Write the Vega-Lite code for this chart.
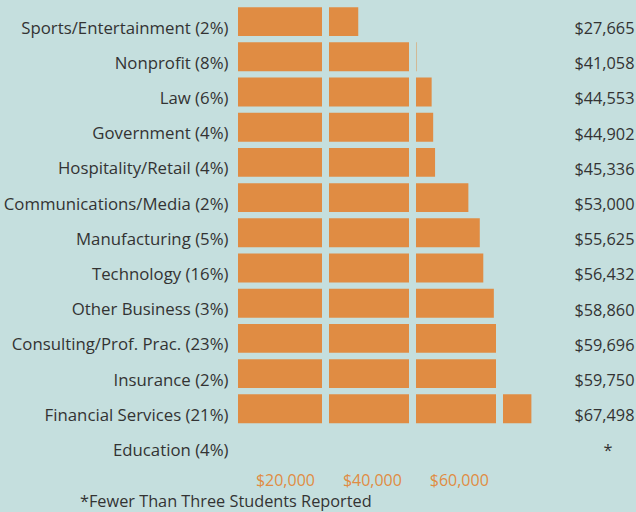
{
  "$schema": "https://vega.github.io/schema/vega-lite/v6.json",
  "width": 326,
  "height": 457.6,
  "autosize": {"type": "none"},
  "padding": {"left": 238, "top": 4, "right": 72, "bottom": 50},
  "background": "#c5dfde",
  "config": {"view": {"stroke": null}, "font": "Open Sans"},
  "title": {
    "text": "*Fewer Than Three Students Reported",
    "orient": "bottom",
    "anchor": "start",
    "frame": "group",
    "dx": -158,
    "offset": 5,
    "fontSize": 16.3,
    "fontWeight": "normal",
    "color": "#333333"
  },
  "data": {
    "values": [
      {"industry": "Sports/Entertainment (2%)", "salary": 27665, "valueLabel": "$27,665"},
      {"industry": "Nonprofit (8%)", "salary": 41058, "valueLabel": "$41,058"},
      {"industry": "Law (6%)", "salary": 44553, "valueLabel": "$44,553"},
      {"industry": "Government (4%)", "salary": 44902, "valueLabel": "$44,902"},
      {"industry": "Hospitality/Retail (4%)", "salary": 45336, "valueLabel": "$45,336"},
      {"industry": "Communications/Media (2%)", "salary": 53000, "valueLabel": "$53,000"},
      {"industry": "Manufacturing (5%)", "salary": 55625, "valueLabel": "$55,625"},
      {"industry": "Technology (16%)", "salary": 56432, "valueLabel": "$56,432"},
      {"industry": "Other Business (3%)", "salary": 58860, "valueLabel": "$58,860"},
      {"industry": "Consulting/Prof. Prac. (23%)", "salary": 59696, "valueLabel": "$59,696"},
      {"industry": "Insurance (2%)", "salary": 59750, "valueLabel": "$59,750"},
      {"industry": "Financial Services (21%)", "salary": 67498, "valueLabel": "$67,498"},
      {"industry": "Education (4%)", "salary": null, "valueLabel": "*"}
    ]
  },
  "layer": [
    {
      "mark": {"type": "bar", "color": "#e08c43"},
      "encoding": {
        "y": {
          "field": "industry",
          "type": "nominal",
          "sort": null,
          "scale": {
            "domain": ["Sports/Entertainment (2%)", "Nonprofit (8%)", "Law (6%)", "Government (4%)", "Hospitality/Retail (4%)", "Communications/Media (2%)", "Manufacturing (5%)", "Technology (16%)", "Other Business (3%)", "Consulting/Prof. Prac. (23%)", "Insurance (2%)", "Financial Services (21%)", "Education (4%)"],
            "paddingInner": 0.18,
            "paddingOuter": 0.09
          },
          "axis": {
            "title": null,
            "domain": false,
            "ticks": false,
            "labelPadding": 10,
            "labelFontSize": 16.8,
            "labelColor": "#333333",
            "labelOffset": 7,
            "labelLimit": 300
          }
        },
        "x": {
          "field": "salary",
          "type": "quantitative",
          "scale": {"domain": [0, 75000]},
          "axis": {
            "title": null,
            "values": [20000, 40000, 60000],
            "format": "$,.0f",
            "grid": true,
            "gridColor": "#c5dfde",
            "gridWidth": 7,
            "zindex": 1,
            "domain": false,
            "ticks": false,
            "labelColor": "#e08c43",
            "labelFontSize": 16,
            "labelOffset": -40,
            "labelPadding": 11
          }
        }
      }
    },
    {
      "mark": {"type": "text", "text": ""},
      "encoding": {
        "y": {
          "field": "valueLabel",
          "type": "nominal",
          "sort": null,
          "scale": {"paddingInner": 0.18, "paddingOuter": 0.09},
          "axis": {
            "orient": "right",
            "title": null,
            "domain": false,
            "ticks": false,
            "labelAlign": "right",
            "labelPadding": {"condition": {"test": "datum.label == '*'", "value": 48}, "value": 70},
            "labelFontSize": 16.3,
            "labelColor": "#333333",
            "labelOffset": 7
          }
        }
      }
    }
  ],
  "resolve": {"scale": {"y": "independent"}}
}
